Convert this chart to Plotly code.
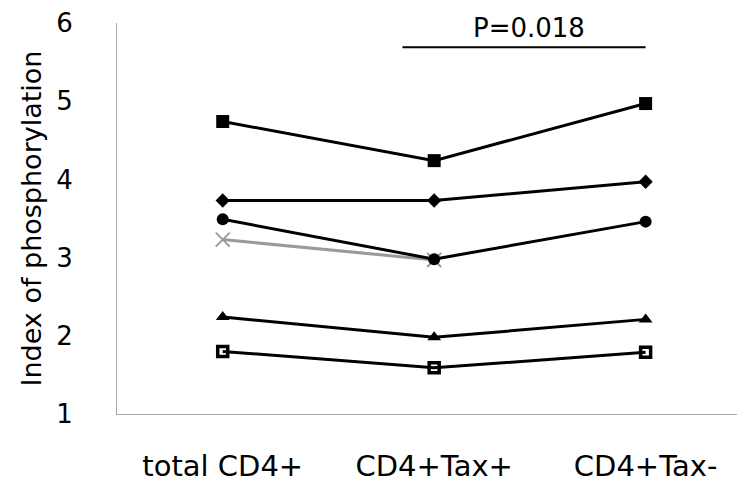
import plotly.graph_objects as go

categories = ["total CD4+", "CD4+Tax+", "CD4+Tax-"]
s_square = [4.74, 4.24, 4.97]
s_diamond = [3.73, 3.73, 3.97]
s_circle = [3.49, 2.98, 3.46]
s_cross = [3.23, 2.97, None]
s_triangle = [2.24, 1.98, 2.21]
s_opensq = [1.80, 1.59, 1.79]
y_ticks = [1, 2, 3, 4, 5, 6]
p_label = "P=0.018"

FONT = "DejaVu Sans"
xi = [0, 1, 2]

fig = go.Figure()

def add(vals, symbol, size, color="black", lw=3, mline=0):
    fig.add_trace(go.Scatter(
        x=xi, y=vals, mode="lines+markers",
        line=dict(color=color, width=lw),
        marker=dict(symbol=symbol, size=size, color=color,
                    line=dict(width=mline, color=color)),
        connectgaps=False, showlegend=False, cliponaxis=False))

add(s_cross, "x-thin-open", 14, color="#9a9a9a", lw=3, mline=2)
add(s_square, "square", 13)
add(s_diamond, "diamond", 11)
add(s_circle, "circle", 12)
add(s_triangle, "triangle-up", 12)
add(s_opensq, "square-open", 10, mline=3.5)

# significance bar
fig.add_shape(type="line", xref="x", yref="y", x0=0.85, x1=2.0, y0=5.69, y1=5.69,
              line=dict(color="black", width=2))
fig.add_annotation(x=1.45, y=5.93, xref="x", yref="y", text=p_label, showarrow=False,
                   font=dict(family=FONT, size=26, color="black"))

# the page body adds an 8px offset; size the figure so it fills the 745x486 window
fig.update_layout(
    width=737, height=478,
    margin=dict(l=109, r=0, t=15, b=72),
    paper_bgcolor="white", plot_bgcolor="white",
    font=dict(family=FONT, color="black"),
    xaxis=dict(range=[-0.5, 2.47], tickmode="array", tickvals=xi, ticktext=categories,
               showgrid=False, zeroline=False, showline=True, linecolor="#a8a8a8",
               linewidth=1, ticks="", ticklabelstandoff=26, automargin=False,
               tickfont=dict(family=FONT, size=29, color="black")),
    yaxis=dict(range=[1, 6], tickmode="array", tickvals=y_ticks,
               showgrid=False, zeroline=False, showline=True, linecolor="#a8a8a8",
               linewidth=1, ticks="", ticklabelstandoff=38, automargin=False,
               tickfont=dict(family=FONT, size=26, color="black"),
               title=dict(text="Index of phosphorylation", standoff=6,
                          font=dict(family=FONT, size=27, color="black"))),
)

fig.write_html("out.html")
